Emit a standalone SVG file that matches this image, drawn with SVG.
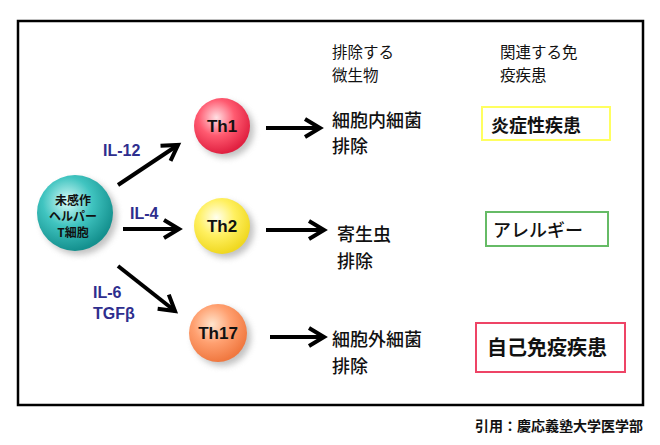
<svg xmlns="http://www.w3.org/2000/svg" width="660" height="445" viewBox="0 0 660 445">
<style>
.jp{font-family:"Noto Sans CJK JP","Liberation Sans",sans-serif;fill:#111}
.lbl{font-family:"Liberation Sans","Noto Sans CJK JP",sans-serif;font-weight:bold;fill:#2e2e8e;font-size:16px}
.th{font-family:"Liberation Sans",sans-serif;font-weight:bold;fill:#111;font-size:17px;text-anchor:middle}
.box{fill:#fff;stroke-width:2}
</style>
<defs>
<marker id="ah2" viewBox="0 0 22 22" refX="19" refY="11" markerWidth="22" markerHeight="22" markerUnits="userSpaceOnUse" orient="auto" overflow="visible">
<path d="M4,2 L19,11 L4,20" fill="none" stroke="#000" stroke-width="4"/>
</marker>
<radialGradient id="gT" cx="0.4" cy="0.35" r="0.65">
<stop offset="0" stop-color="#d8fbf8"/><stop offset="0.5" stop-color="#40c4c0"/><stop offset="1" stop-color="#14908e"/>
</radialGradient>
<radialGradient id="gR" cx="0.4" cy="0.35" r="0.65">
<stop offset="0" stop-color="#ffe0e4"/><stop offset="0.5" stop-color="#ff5a70"/><stop offset="1" stop-color="#e02040"/>
</radialGradient>
<radialGradient id="gY" cx="0.4" cy="0.35" r="0.65">
<stop offset="0" stop-color="#fffff0"/><stop offset="0.5" stop-color="#fff060"/><stop offset="1" stop-color="#f0d820"/>
</radialGradient>
<radialGradient id="gO" cx="0.4" cy="0.35" r="0.65">
<stop offset="0" stop-color="#ffe4cc"/><stop offset="0.5" stop-color="#ffa070"/><stop offset="1" stop-color="#f07840"/>
</radialGradient>
<filter id="sh" x="-30%" y="-30%" width="170%" height="170%">
<feGaussianBlur stdDeviation="3"/>
</filter>
</defs>
<rect x="0" y="0" width="660" height="445" fill="#fff"/>
<rect x="18" y="21" width="625" height="384" fill="#fff" stroke="#000" stroke-width="2.5"/>

<g id="connectors">
<line x1="118" y1="185" x2="178" y2="145" stroke="#000" stroke-width="4" marker-end="url(#ah2)"/>
<line x1="123" y1="229" x2="179" y2="229" stroke="#000" stroke-width="4" marker-end="url(#ah2)"/>
<line x1="118" y1="266" x2="175" y2="311" stroke="#000" stroke-width="4" marker-end="url(#ah2)"/>
<line x1="266" y1="128" x2="320" y2="128" stroke="#000" stroke-width="4" marker-end="url(#ah2)"/>
<line x1="266" y1="230" x2="324" y2="230" stroke="#000" stroke-width="4" marker-end="url(#ah2)"/>
<line x1="270" y1="337" x2="324" y2="337" stroke="#000" stroke-width="4" marker-end="url(#ah2)"/>
<text class="lbl" x="103" y="156">IL-12</text>
<text class="lbl" x="130" y="219">IL-4</text>
<text class="lbl" x="93" y="298">IL-6</text>
<text class="lbl" x="93" y="319">TGFβ</text>
</g>

<g id="naive">
<circle cx="79" cy="217" r="38" fill="#999" opacity="0.6" filter="url(#sh)"/>
<circle cx="75" cy="213" r="38" fill="url(#gT)"/>
<text class="jp" font-size="12" font-weight="bold" text-anchor="middle" x="73" y="205">未感作</text>
<text class="jp" font-size="12" font-weight="bold" text-anchor="middle" x="73" y="221">ヘルパー</text>
<text class="jp" font-size="12" font-weight="bold" text-anchor="middle" x="73" y="237">T細胞</text>
</g>

<g id="th1">
<circle cx="226" cy="130" r="28" fill="#999" opacity="0.6" filter="url(#sh)"/>
<circle cx="222" cy="126" r="28" fill="url(#gR)"/>
<text class="th" x="222" y="132">Th1</text>
</g>
<g id="th2">
<circle cx="226" cy="230" r="28" fill="#999" opacity="0.6" filter="url(#sh)"/>
<circle cx="222" cy="226" r="28" fill="url(#gY)"/>
<text class="th" x="222" y="232">Th2</text>
</g>
<g id="th17">
<circle cx="222" cy="337" r="29" fill="#999" opacity="0.6" filter="url(#sh)"/>
<circle cx="218" cy="333" r="29" fill="url(#gO)"/>
<text class="th" x="218" y="339">Th17</text>
</g>

<g id="headers">
<text class="jp" font-size="15.5" x="332" y="58">排除する</text>
<text class="jp" font-size="15.5" x="332" y="81">微生物</text>
<text class="jp" font-size="15.5" x="500" y="58">関連する免</text>
<text class="jp" font-size="15.5" x="500" y="81">疫疾患</text>
</g>

<g id="microbe1">
<text class="jp" font-size="18" font-weight="500" x="332" y="127">細胞内細菌</text>
<text class="jp" font-size="18" font-weight="500" x="332" y="153">排除</text>
</g>
<g id="microbe2">
<text class="jp" font-size="18" font-weight="500" x="337" y="241">寄生虫</text>
<text class="jp" font-size="18" font-weight="500" x="337" y="268">排除</text>
</g>
<g id="microbe3">
<text class="jp" font-size="18" font-weight="500" x="332" y="346">細胞外細菌</text>
<text class="jp" font-size="18" font-weight="500" x="332" y="373">排除</text>
</g>

<g id="disease1">
<rect class="box" x="482" y="107" width="128" height="33" stroke="#ffff60"/>
<text class="jp" font-size="18" font-weight="bold" x="491" y="132">炎症性疾患</text>
</g>
<g id="disease2">
<rect class="box" x="486" y="212" width="122" height="34" stroke="#66bb66"/>
<text class="jp" font-size="18" font-weight="500" x="493" y="237">アレルギー</text>
</g>
<g id="disease3">
<rect class="box" x="476" y="323" width="149" height="49" stroke="#ee4466"/>
<text class="jp" font-size="20" font-weight="bold" x="487" y="355">自己免疫疾患</text>
</g>

<text class="jp" font-size="14" font-weight="bold" text-anchor="end" x="643" y="431">引用：慶応義塾大学医学部</text>
</svg>
